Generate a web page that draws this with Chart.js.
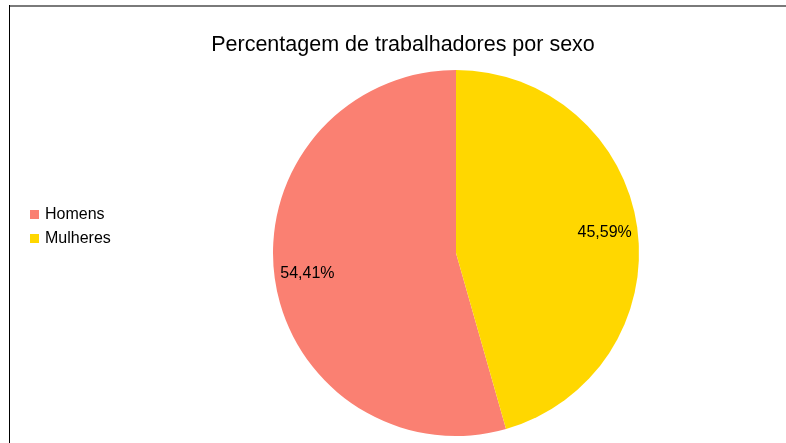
<!DOCTYPE html>
<html>
<head>
<meta charset="utf-8">
<script src="https://cdn.jsdelivr.net/npm/chart.js@4"></script>
<style>
  html, body { margin: 0; padding: 0; background: #fff; }
  #wrap { width: 786px; height: 443px; position: relative; }
</style>
</head>
<body>
<div id="wrap"><canvas id="pizza" width="786" height="443"></canvas></div>
<script>
// dados
const titulo = 'Percentagem de trabalhadores por sexo';
const categorias = ['Homens', 'Mulheres'];
const valores = [54.41, 45.59];
const cores = ['#FA8072', '#FFD700'];

const fonte = '"Liberation Sans", Arial, sans-serif';

// moldura, titulo, legenda e rotulos desenhados a mao
const extras = {
    id: 'extras',
    beforeDraw(chart) {
        const ctx = chart.ctx;
        ctx.save();
        ctx.fillStyle = '#fff';
        ctx.fillRect(0, 0, chart.width, chart.height);
        ctx.strokeStyle = '#7a7a7a';
        ctx.lineWidth = 2;
        ctx.beginPath();
        ctx.moveTo(9, 6);
        ctx.lineTo(chart.width, 6);
        ctx.stroke();
        ctx.strokeStyle = '#000';
        ctx.lineWidth = 1;
        ctx.beginPath();
        ctx.moveTo(9.5, 5);
        ctx.lineTo(9.5, chart.height);
        ctx.stroke();
        ctx.restore();
    },
    afterDraw(chart) {
        const ctx = chart.ctx;
        ctx.save();
        ctx.fillStyle = '#000';
        ctx.textAlign = 'center';
        ctx.textBaseline = 'middle';
        ctx.font = '21.5px ' + fonte;
        ctx.fillText(titulo, 403, 45);

        // legenda
        ctx.font = '16px ' + fonte;
        ctx.textAlign = 'left';
        categorias.forEach(function(c, i) {
            const y = 215 + i * 24;
            ctx.fillStyle = cores[i];
            ctx.fillRect(30, y - 5, 9, 9);
            ctx.fillStyle = '#000';
            ctx.fillText(c, 45, y);
        });

        // rotulos de percentagem
        ctx.textAlign = 'center';
        const meta = chart.getDatasetMeta(0);
        meta.data.forEach(function(arc, i) {
            const p = arc.getProps(['x', 'y', 'startAngle', 'endAngle', 'outerRadius'], true);
            const a = (p.startAngle + p.endAngle) / 2;
            const r = p.outerRadius * 0.82;
            const txt = valores[i].toFixed(2).replace('.', ',') + '%';
            ctx.fillText(txt, p.x + Math.cos(a) * r, p.y + Math.sin(a) * r);
        });
        ctx.restore();
    }
};

const soma = valores.reduce((s, v) => s + v, 0);

new Chart(document.getElementById('pizza'), {
    type: 'pie',
    data: {
        labels: categorias,
        datasets: [{
            data: valores,
            backgroundColor: cores,
            borderWidth: 0
        }]
    },
    options: {
        responsive: false,
        animation: false,
        rotation: valores[1] / soma * 360,
        layout: { padding: { left: 273, right: 147, top: 70, bottom: 7 } },
        plugins: {
            legend: { display: false },
            title: { display: false },
            tooltip: { enabled: false }
        }
    },
    plugins: [extras]
});
</script>
</body>
</html>
